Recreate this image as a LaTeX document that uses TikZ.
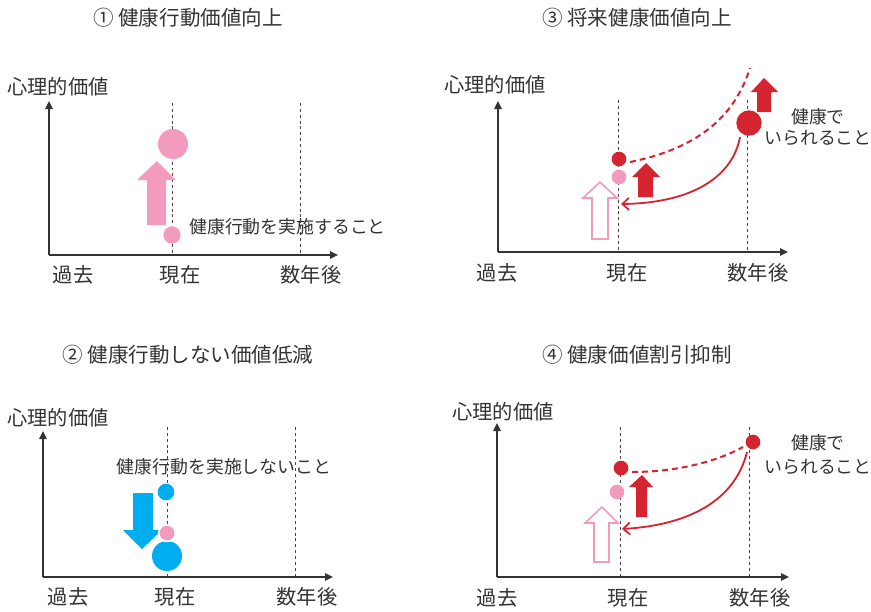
\documentclass[tikz,border=0pt]{standalone}
\usepackage{fontspec}
\setmainfont{Noto Sans CJK JP}
\usetikzlibrary{arrows.meta}
\definecolor{txt}{HTML}{333333}
\definecolor{pinkc}{HTML}{F39BBE}
\definecolor{redc}{HTML}{D42430}
\definecolor{bluec}{HTML}{00AEEF}
\tikzset{
  axis/.style={line width=1.5pt, draw=txt, -{Triangle[length=6pt,width=5.5pt]}},
  guide/.style={line width=0.6pt, draw=txt!90, dash pattern=on 2.2pt off 2.2pt},
  ttl/.style={inner sep=0pt, text=txt, font=\fontsize{15.4}{15.4}\selectfont},
  ylab/.style={inner sep=0pt, text=txt, anchor=west, font=\fontsize{15.2}{15.2}\selectfont},
  xlab/.style={inner sep=0pt, text=txt, font=\fontsize{15.2}{15.2}\selectfont},
  note/.style={inner sep=0pt, text=txt, font=\fontsize{13.4}{13.4}\selectfont},
  dotc/.style={circle, inner sep=0pt, minimum size=#1},
  redline/.style={draw=redc, line width=1.35pt},
  reddash/.style={draw=redc, line width=1.5pt, dash pattern=on 4.5pt off 3pt},
  barb/.style={-{Straight Barb[length=5pt,width=9pt,line width=1.3pt]}},
  hollow/.style={draw=pinkc, line width=1.2pt, fill=white},
}
\begin{document}
\begin{tikzpicture}[x=0.75pt,y=-0.75pt]
\useasboundingbox (0,0) rectangle (871,611);

% ================= Panel 1 =================
\node[ttl] (t1) at (188,18) {① 健康行動価値向上};
\node[ylab] (y1) at (7,87) {心理的価値};
\coordinate (o1) at (49,255);
\coordinate (yt1) at (49,101);
\coordinate (xt1) at (338,255);
\coordinate (g1a) at (172,103);
\coordinate (g1b) at (172,255);
\coordinate (g1c) at (300,103);
\coordinate (g1d) at (300,255);
\draw[guide] (g1a) -- (g1b);
\draw[guide] (g1c) -- (g1d);
\draw[axis] (o1) -- (yt1);
\draw[axis] (o1) -- (xt1);
\fill[pinkc] (147,225) -- (147,180) -- (137,180) -- (157,161) -- (176,180) -- (166,180) -- (166,225) -- cycle;
\node[dotc=22.5pt, fill=pinkc] (c1big) at (173,144) {};
\node[dotc=13pt, fill=pinkc] (c1small) at (172,235) {};
\node[note, anchor=west] (n1) at (189,227) {健康行動を実施すること};
\node[xlab] (x1a) at (73,275) {過去};
\node[xlab] (x1b) at (180,275) {現在};
\node[xlab] (x1c) at (311,275) {数年後};

% ================= Panel 2 =================
\node[ttl] (t2) at (188,355) {② 健康行動しない価値低減};
\node[ylab] (y2) at (7,418) {心理的価値};
\coordinate (o2) at (43,577);
\coordinate (yt2) at (43,431);
\coordinate (xt2) at (333,577);
\coordinate (g2a) at (167,427);
\coordinate (g2b) at (167,577);
\coordinate (g2c) at (295,427);
\coordinate (g2d) at (295,577);
\draw[guide] (g2a) -- (g2b);
\draw[guide] (g2c) -- (g2d);
\draw[axis] (o2) -- (yt2);
\draw[axis] (o2) -- (xt2);
\node[note] (n2) at (224,467) {健康行動を実施しないこと};
\fill[bluec] (133,493) -- (153,493) -- (153,530) -- (162,530) -- (142,549) -- (123,530) -- (133,530) -- cycle;
\node[dotc=12.5pt, fill=bluec] (c2top) at (166,492) {};
\node[dotc=22.5pt, fill=bluec] (c2big) at (167,556) {};
\node[dotc=12.5pt, fill=pinkc, draw=white, line width=1.2pt] (c2pink) at (167,533) {};
\node[xlab] (x2a) at (68,597) {過去};
\node[xlab] (x2b) at (175,597) {現在};
\node[xlab] (x2c) at (307,597) {数年後};

% ================= Panel 3 =================
\node[ttl] (t3) at (637,18) {③ 将来健康価値向上};
\node[ylab] (y3) at (444,85) {心理的価値};
\coordinate (o3) at (498,252);
\coordinate (yt3) at (498,101);
\coordinate (xt3) at (788,252);
\coordinate (g3a) at (618,100);
\coordinate (g3b) at (618,252);
\coordinate (g3c) at (747,100);
\coordinate (g3d) at (747,252);
\draw[guide] (g3a) -- (g3b);
\draw[guide] (g3c) -- (g3d);
\draw[axis] (o3) -- (yt3);
\draw[axis] (o3) -- (xt3);
\draw[hollow] (592,239) -- (592,198) -- (583,198) -- (600,182) -- (617,198) -- (608,198) -- (608,239) -- cycle;
\fill[redc] (638,197) -- (638,177) -- (632,177) -- (646,163) -- (660,177) -- (653,177) -- (653,197) -- cycle;
\fill[redc] (757,112) -- (757,92) -- (751,92) -- (764,78) -- (778,92) -- (771,92) -- (771,112) -- cycle;
\node[dotc=11pt, fill=redc] (c3red) at (619,159) {};
\node[dotc=11pt, fill=pinkc] (c3pink) at (619,177) {};
\node[dotc=19pt, fill=redc] (c3big) at (749,123) {};
\coordinate (d3s) at (630,162);
\coordinate (d3e) at (750,68);
\draw[reddash] (d3s) .. controls (700,148) and (735,115) .. (d3e);
\coordinate (r3s) at (740,137);
\coordinate (r3e) at (621,204);
\draw[redline, barb] (r3s) .. controls (733,175) and (695,203) .. (r3e);
\node[note] (n3a) at (818,117) {健康で};
\node[note] (n3b) at (818,138) {いられること};
\node[xlab] (x3a) at (497,273) {過去};
\node[xlab] (x3b) at (627,273) {現在};
\node[xlab] (x3c) at (758,273) {数年後};

% ================= Panel 4 =================
\node[ttl] (t4) at (637,355) {④ 健康価値割引抑制};
\node[ylab] (y4) at (452,412) {心理的価値};
\coordinate (o4) at (497,577);
\coordinate (yt4) at (497,423);
\coordinate (xt4) at (789,577);
\coordinate (g4a) at (620,427);
\coordinate (g4b) at (620,577);
\coordinate (g4c) at (749,427);
\coordinate (g4d) at (749,577);
\draw[guide] (g4a) -- (g4b);
\draw[guide] (g4c) -- (g4d);
\draw[axis] (o4) -- (yt4);
\draw[axis] (o4) -- (xt4);
\draw[hollow] (594,562) -- (594,523) -- (585,523) -- (602,507) -- (618,523) -- (609,523) -- (609,562) -- cycle;
\fill[redc] (636,517) -- (636,487) -- (629,487) -- (642,475) -- (653,487) -- (647,487) -- (647,517) -- cycle;
\node[dotc=11pt, fill=redc] (c4red) at (621,468) {};
\node[dotc=11pt, fill=pinkc] (c4pink) at (617,492) {};
\node[dotc=11pt, fill=redc] (c4fut) at (753,442) {};
\coordinate (d4s) at (632,472);
\coordinate (d4e) at (743,447);
\draw[reddash] (d4s) .. controls (680,472) and (720,460) .. (d4e);
\coordinate (r4s) at (747,452);
\coordinate (r4e) at (622,529);
\draw[redline, barb] (r4s) .. controls (735,500) and (690,525) .. (r4e);
\node[note] (n4a) at (818,443) {健康で};
\node[note] (n4b) at (818,467) {いられること};
\node[xlab] (x4a) at (497,598) {過去};
\node[xlab] (x4b) at (628,598) {現在};
\node[xlab] (x4c) at (760,598) {数年後};
\end{tikzpicture}
\end{document}
